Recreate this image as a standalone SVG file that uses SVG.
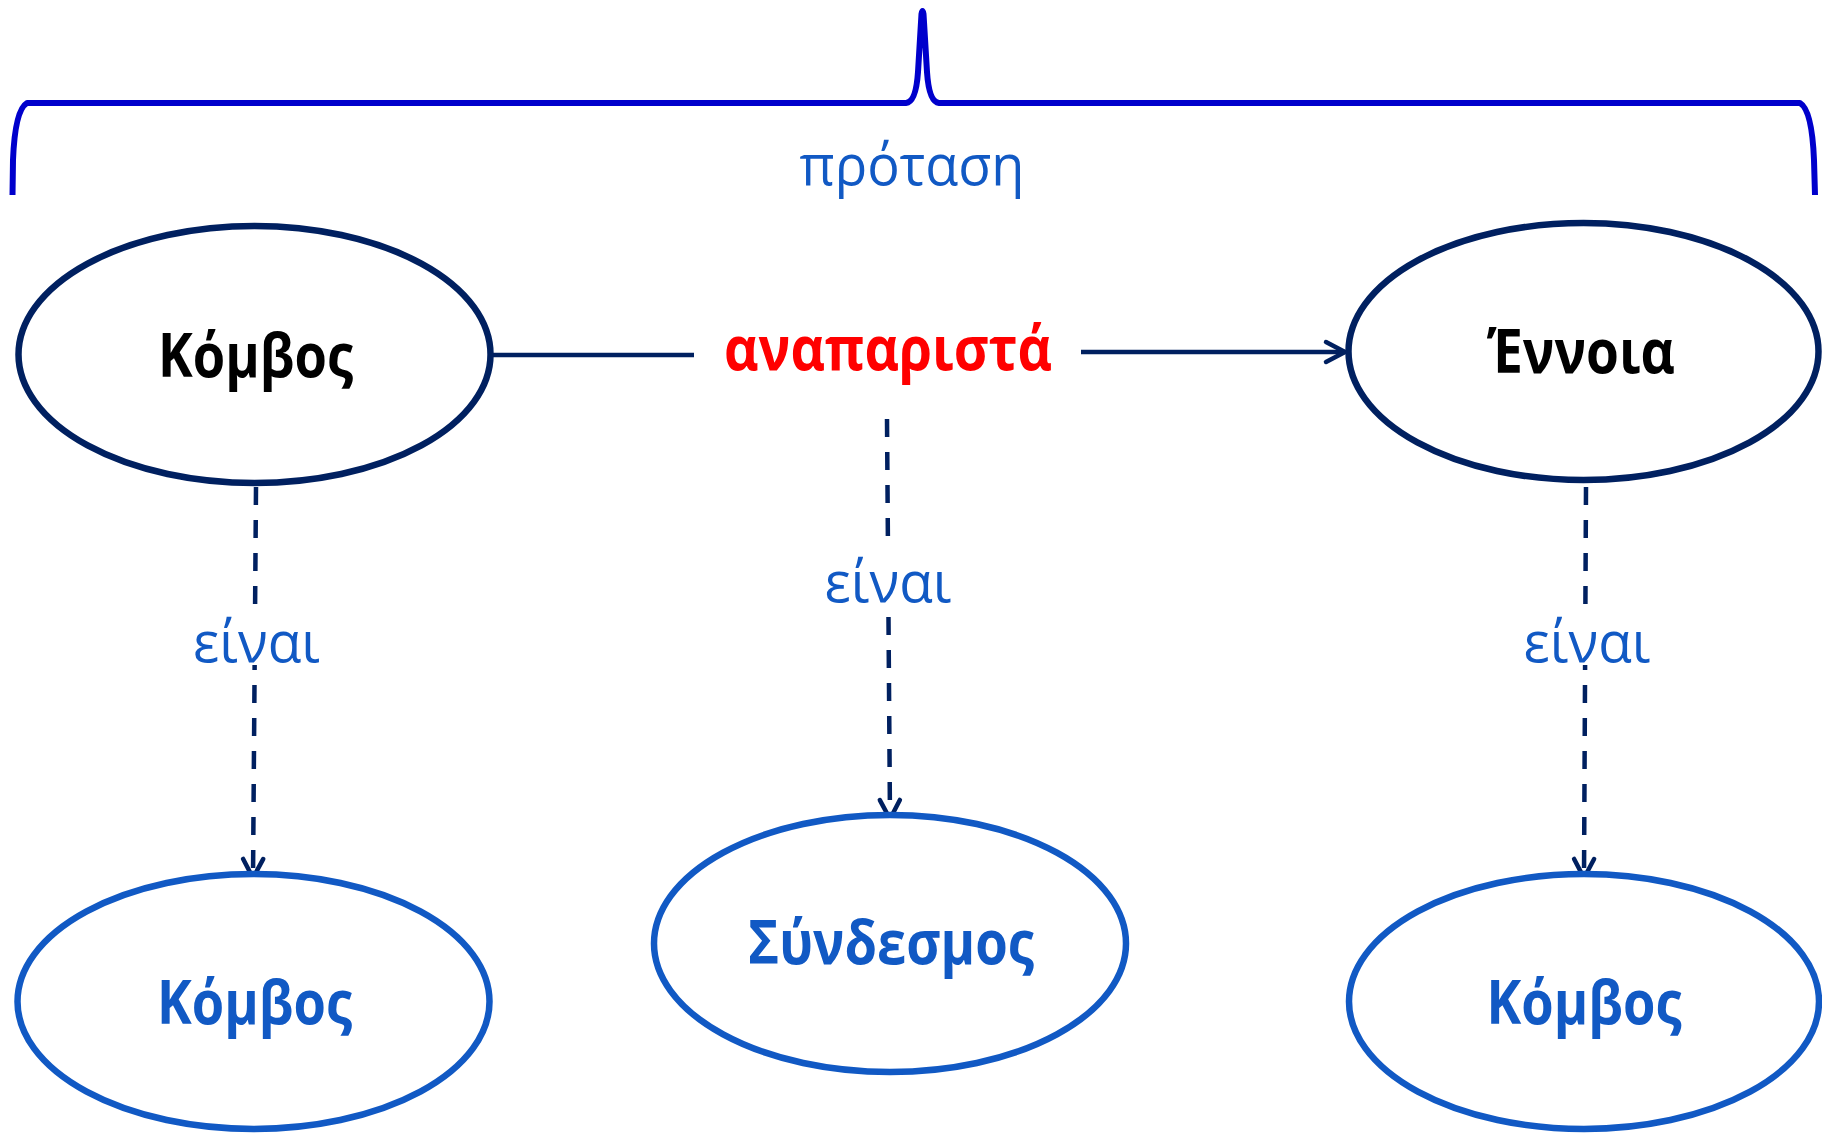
<svg xmlns="http://www.w3.org/2000/svg" width="1822" height="1133" viewBox="0 0 1822 1133">
<defs>
<style>
.node-dark{fill:#FFFFFF;stroke:#002060;stroke-width:6.5}
.node-blue{fill:#FFFFFF;stroke:#1159C4;stroke-width:6.5}
.t{font-family:"Open Sans","Noto Sans","DejaVu Sans",sans-serif;text-anchor:middle}
.tb{font-weight:bold;font-size:60px}
.lbl{font-size:56px;fill:#1159C4}
.conn{fill:none;stroke:#002060;stroke-width:4.5}
.dash{fill:none;stroke:#002060;stroke-width:4.5;stroke-dasharray:18 15}
</style>
<marker id="arr" markerUnits="userSpaceOnUse" markerWidth="26" markerHeight="26" refX="21" refY="11" orient="auto" overflow="visible">
<path d="M2,1 L21,11 L2,21" fill="none" stroke="#002060" stroke-width="4.5" stroke-linecap="round" stroke-linejoin="round"/>
</marker>
</defs>
<rect width="1822" height="1133" fill="#FFFFFF"/>

<g id="brace">
<path d="M12.5,195 L13,160 Q15,110 27,103 L906,103 Q916,102 918,72 L921.5,14 Q922.5,8 923.5,14 L927,72 Q929,102 939,103 L1800,103 Q1812,110 1814,160 L1815,195" fill="none" stroke="#0000CC" stroke-width="6" stroke-linejoin="round"/>
<text class="t lbl" x="912" y="185" font-size="58" textLength="225" lengthAdjust="spacingAndGlyphs">πρόταση</text>
</g>

<g id="connectors">
<line class="conn" x1="491" y1="355" x2="694" y2="355"/>
<line class="conn" x1="1081" y1="352" x2="1345" y2="352" marker-end="url(#arr)"/>
<line class="dash" x1="256" y1="487" x2="253" y2="878" marker-end="url(#arr)"/>
<line class="dash" x1="887" y1="419" x2="890" y2="819" marker-end="url(#arr)"/>
<line class="dash" x1="1586" y1="487" x2="1584" y2="878" marker-end="url(#arr)"/>
</g>

<g id="label-anaparista">
<text class="t tb" x="888" y="370" fill="#FF0000" textLength="328" lengthAdjust="spacingAndGlyphs">αναπαριστά</text>
</g>

<g id="label-einai-left">
<rect x="190" y="615" width="133" height="50" fill="#FFFFFF"/>
<text class="t lbl" x="256.5" y="662" textLength="127" lengthAdjust="spacingAndGlyphs">είναι</text>
</g>
<g id="label-einai-center">
<rect x="822" y="551" width="133" height="56" fill="#FFFFFF"/>
<text class="t lbl" x="888" y="602" textLength="127" lengthAdjust="spacingAndGlyphs">είναι</text>
</g>
<g id="label-einai-right">
<rect x="1521" y="615" width="133" height="50" fill="#FFFFFF"/>
<text class="t lbl" x="1587" y="662" textLength="127" lengthAdjust="spacingAndGlyphs">είναι</text>
</g>

<g id="node-kombos-top">
<ellipse class="node-dark" cx="254.5" cy="354.5" rx="236" ry="128.5"/>
<text class="t tb" x="255.5" y="377" fill="#000000" textLength="195" lengthAdjust="spacingAndGlyphs">Κόμβος</text>
</g>

<g id="node-ennoia">
<ellipse class="node-dark" cx="1583.5" cy="351.5" rx="235" ry="128.5"/>
<text class="t tb" x="1581" y="373" fill="#000000" textLength="188" lengthAdjust="spacingAndGlyphs">Έννοια</text>
</g>

<g id="node-kombos-left">
<ellipse class="node-blue" cx="253.5" cy="1001.5" rx="236" ry="127.5"/>
<text class="t tb" x="254.5" y="1024" fill="#1159C4" textLength="195" lengthAdjust="spacingAndGlyphs">Κόμβος</text>
</g>

<g id="node-syndesmos">
<ellipse class="node-blue" cx="890" cy="943.5" rx="236" ry="128.5"/>
<text class="t tb" x="891" y="964" fill="#1159C4" textLength="286" lengthAdjust="spacingAndGlyphs">Σύνδεσμος</text>
</g>

<g id="node-kombos-right">
<ellipse class="node-blue" cx="1584" cy="1001.5" rx="235" ry="127.5"/>
<text class="t tb" x="1584" y="1024" fill="#1159C4" textLength="195" lengthAdjust="spacingAndGlyphs">Κόμβος</text>
</g>
</svg>
